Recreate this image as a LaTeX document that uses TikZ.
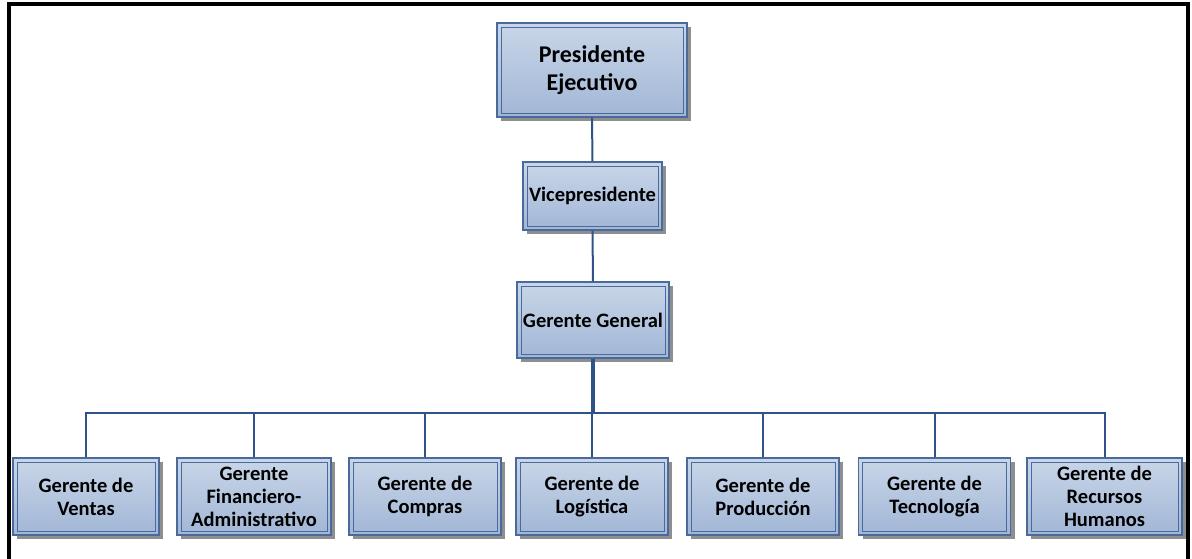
\documentclass[tikz,border=0pt]{standalone}
\usepackage{fontspec}
\setmainfont{Carlito}
\usetikzlibrary{shadows,calc}
\definecolor{boxline}{HTML}{4A6A9C}
\definecolor{boxtop}{HTML}{C9D6E8}
\definecolor{boxbot}{HTML}{A1B6D6}
\definecolor{linkblue}{HTML}{2F5289}
\definecolor{shade}{HTML}{8E8E8E}
\tikzset{
  orgbox/.style={
    draw=boxline, line width=1.1pt,
    top color=boxtop, bottom color=boxbot,
    drop shadow={shadow xshift=4pt, shadow yshift=-4pt, fill=shade, opacity=1},
    inner sep=2pt, align=center,
    font=\fontsize{20.5}{23}\selectfont\bfseries, text=black,
    path picture={\draw[boxline, line width=0.9pt]
      ([shift={(4pt,-4pt)}]path picture bounding box.north west) rectangle
      ([shift={(-4pt,4pt)}]path picture bounding box.south east);}
  },
  toprow/.style={orgbox, minimum width=190pt, minimum height=94pt, font=\fontsize{24}{28}\selectfont\bfseries},
  leaf/.style={orgbox, minimum width=152pt, minimum height=77pt},
  link/.style={draw=linkblue, line width=2pt},
  frameline/.style={draw=black, line width=4pt}
}
\begin{document}
\begin{tikzpicture}[x=1pt,y=-1pt]
  \useasboundingbox (0,0) rectangle (1192,559);
  % outer frame (open at the bottom)
  \draw[frameline] (9,559) -- (9,4) -- (1188,4) -- (1188,559);

  % top of the hierarchy
  \node[toprow] (pres) at (592,70) {Presidente\\Ejecutivo};
  \node[orgbox, minimum width=139pt, minimum height=68pt] (vice) at (592.5,196) {Vicepresidente};
  \node[orgbox, minimum width=152pt, minimum height=76pt] (gg) at (593,320) {Gerente General};

  % managers
  \node[leaf, minimum width=146pt] (ventas) at (86,496.5) {Gerente de\\Ventas};
  \node[leaf, minimum width=154pt] (fin) at (254,496.5) {Gerente\\Financiero-\\Administrativo};
  \node[leaf] (compras) at (425,496.5) {Gerente de\\Compras};
  \node[leaf] (log) at (592,496.5) {Gerente de\\Logística};
  \node[leaf] (prod) at (763,496.5) {Gerente de\\Producción};
  \node[leaf] (tec) at (934.5,496.5) {Gerente de\\Tecnología};
  \node[leaf, minimum width=155pt] (rh) at (1104.5,496.5) {Gerente de\\Recursos\\Humanos};

  % connectors
  \coordinate (bus) at (593,413);
  \draw[link] (pres.south) -- (vice.north);
  \draw[link] (vice.south) -- (gg.north);
  \draw[link, line width=3.5pt] (gg.south) -- (bus);
  \foreach \c in {ventas,fin,compras,log,prod,tec,rh}
    \draw[link] (bus) -| (\c.north);
\end{tikzpicture}
\end{document}
